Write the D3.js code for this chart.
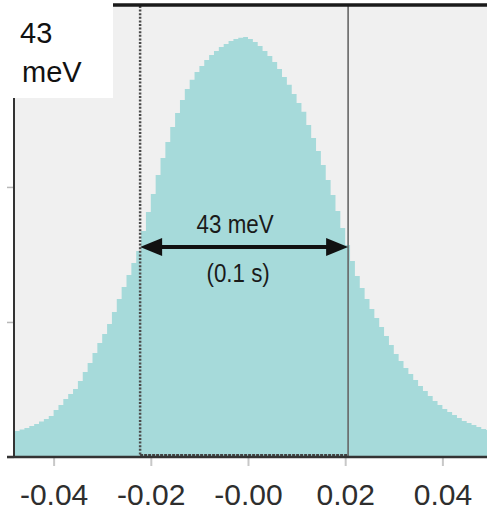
<!DOCTYPE html>
<html>
<head>
<meta charset="utf-8">
<script src="https://cdn.jsdelivr.net/npm/d3@7/dist/d3.min.js"></script>
<style>
  html, body { margin: 0; padding: 0; background: #ffffff; }
  svg { display: block; }
  text { font-family: "Liberation Sans", Arial, sans-serif; }
</style>
</head>
<body>
<svg id="chart" width="487" height="513"></svg>
<script>
// Energy histogram (eV), bins of 1 meV starting at -0.049 eV
const binStart = -0.049;
const binWidth = 0.001;
const counts = [
  185, 193, 204, 215, 230, 244, 263, 281, 304, 348,
  385, 430, 467, 504, 563, 630, 696, 770, 844, 911,
  985, 1074, 1170, 1259, 1348, 1437, 1526, 1674, 1815, 1948,
  2089, 2215, 2333, 2444, 2548, 2644, 2726, 2793, 2852, 2896,
  2941, 2978, 3007, 3037, 3059, 3081, 3096, 3104, 3111, 3096,
  3074, 3044, 3007, 2970, 2926, 2874, 2815, 2756, 2689, 2622,
  2556, 2459, 2363, 2267, 2163, 2052, 1941, 1822, 1696, 1570,
  1452, 1341, 1252, 1170, 1096, 1030, 963, 896, 830, 763,
  711, 659, 615, 570, 526, 489, 452, 415, 385, 356,
  333, 311, 289, 267, 252, 237, 222, 207, 200
];

// Width interval markers (eV) and annotation
const markerLeft = -0.0222;
const markerRight = 0.0206;
const widthLabel = "43 meV";
const timeLabel = "(0.1 s)";
const boxLabel = ["43", "meV"];

// Axis ticks
const xTickValues = [-0.04, -0.02, 0.0, 0.02, 0.04];
const xTickLabels = ["-0.04", "-0.02", "-0.00", "0.02", "0.04"];
const yTickValues = [0, 1000, 2000, 3000];

(function draw() {
  const svg = d3.select("#chart");
  const pLeft = 14, pRight = 487, pTop = 6, pBottom = 457;

  const x = d3.scaleLinear().domain([-0.04815, 0.04918]).range([pLeft, pRight]);
  const y = d3.scaleLinear().domain([0, 3340]).range([pBottom, pTop]);

  // plot background
  svg.append("rect")
    .attr("x", pLeft).attr("y", pTop)
    .attr("width", pRight - pLeft).attr("height", pBottom - pTop)
    .attr("fill", "#f0f0f0");

  svg.append("clipPath").attr("id", "plotClip")
    .append("rect")
    .attr("x", pLeft).attr("y", pTop)
    .attr("width", pRight - pLeft).attr("height", pBottom - pTop);

  // histogram as a stepped area
  const pts = counts.map((c, i) => ({ e: binStart + i * binWidth, c }));
  pts.push({ e: binStart + counts.length * binWidth, c: counts[counts.length - 1] });

  const area = d3.area()
    .x(d => x(d.e))
    .y0(y(0))
    .y1(d => y(d.c))
    .curve(d3.curveStepAfter);

  svg.append("path")
    .datum(pts)
    .attr("clip-path", "url(#plotClip)")
    .attr("fill", "#a6dada")
    .attr("d", area);

  // interval markers
  svg.append("line")
    .attr("x1", x(markerLeft)).attr("x2", x(markerLeft))
    .attr("y1", pTop).attr("y2", pBottom)
    .attr("stroke", "#4a4a4a").attr("stroke-width", 2.5)
    .attr("stroke-dasharray", "2,1.6");

  svg.append("line")
    .attr("x1", x(markerRight)).attr("x2", x(markerRight))
    .attr("y1", pTop).attr("y2", pBottom)
    .attr("stroke", "#666").attr("stroke-width", 1.6);

  svg.append("line")
    .attr("x1", x(markerLeft)).attr("x2", x(markerRight))
    .attr("y1", pBottom - 2).attr("y2", pBottom - 2)
    .attr("stroke", "#444").attr("stroke-width", 2)
    .attr("stroke-dasharray", "3,1");

  // double arrow spanning the width
  const arrowY = y(3111 / 2);
  const xl = x(markerLeft), xr = x(markerRight);
  svg.append("line")
    .attr("x1", xl + 14).attr("x2", xr - 14)
    .attr("y1", arrowY).attr("y2", arrowY)
    .attr("stroke", "#111").attr("stroke-width", 4);
  svg.append("path")
    .attr("d", `M${xl},${arrowY} L${xl + 22},${arrowY - 9} L${xl + 22},${arrowY + 9} Z`)
    .attr("fill", "#111");
  svg.append("path")
    .attr("d", `M${xr},${arrowY} L${xr - 22},${arrowY - 9} L${xr - 22},${arrowY + 9} Z`)
    .attr("fill", "#111");

  const mid = (xl + xr) / 2;
  const sx = 0.86;
  const addLabel = (cx, cy, txt) => svg.append("text")
    .attr("x", cx).attr("y", cy)
    .attr("text-anchor", "middle")
    .attr("font-size", 26).attr("fill", "#1a1a1a")
    .attr("transform", `translate(${cx * (1 - sx)},0) scale(${sx},1)`)
    .text(txt);
  addLabel(mid - 9, arrowY - 14, widthLabel);
  addLabel(mid - 6, arrowY + 35, timeLabel);

  // axes
  const xAxis = d3.axisBottom(x)
    .tickValues(xTickValues)
    .tickSize(9)
    .tickPadding(18)
    .tickFormat((d, i) => xTickLabels[i]);

  const gx = svg.append("g")
    .attr("transform", `translate(0,${pBottom})`)
    .call(xAxis);
  gx.select(".domain").remove();
  gx.selectAll(".tick line").attr("stroke", "#c8c8c8").attr("stroke-width", 2);
  gx.selectAll(".tick text")
    .attr("font-size", 30)
    .attr("font-family", "'Liberation Sans', Arial, sans-serif")
    .attr("fill", "#2e2e2e")
    .attr("dy", "0.71em");

  const yAxis = d3.axisLeft(y)
    .tickValues(yTickValues)
    .tickSize(7)
    .tickFormat("");
  const gy = svg.append("g")
    .attr("transform", `translate(${pLeft},0)`)
    .call(yAxis);
  gy.select(".domain").remove();
  gy.selectAll(".tick line").attr("stroke", "#b8b8b8").attr("stroke-width", 1.5);

  // frame lines
  svg.append("line")
    .attr("x1", pLeft).attr("x2", pLeft)
    .attr("y1", pTop).attr("y2", pBottom + 1)
    .attr("stroke", "#333").attr("stroke-width", 2);
  svg.append("line")
    .attr("x1", 7).attr("x2", pRight)
    .attr("y1", pBottom).attr("y2", pBottom)
    .attr("stroke", "#333").attr("stroke-width", 2.5);
  svg.append("line")
    .attr("x1", pLeft).attr("x2", pRight)
    .attr("y1", pTop - 1).attr("y2", pTop - 1)
    .attr("stroke", "#1a1a1a").attr("stroke-width", 3.5);

  // label box in the top-left corner
  svg.append("rect")
    .attr("x", 0).attr("y", 0)
    .attr("width", 113).attr("height", 98)
    .attr("fill", "#ffffff");
  svg.append("text")
    .attr("x", 20).attr("y", 43)
    .attr("font-size", 29).attr("fill", "#111")
    .text(boxLabel[0]);
  svg.append("text")
    .attr("x", 22).attr("y", 82)
    .attr("font-size", 29).attr("fill", "#111")
    .text(boxLabel[1]);
})();
</script>
</body>
</html>
